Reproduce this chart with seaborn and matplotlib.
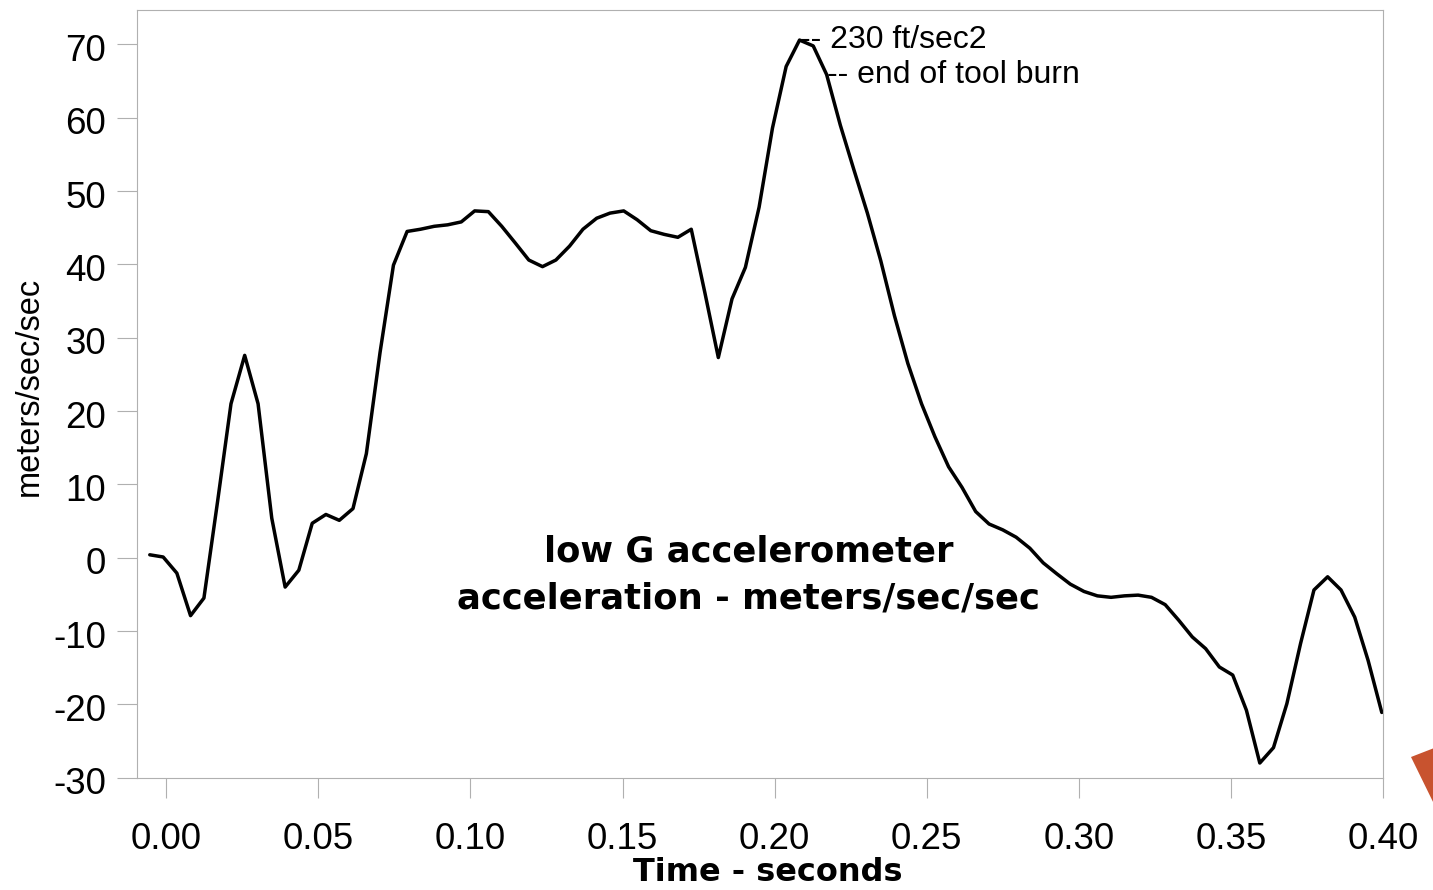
import matplotlib
matplotlib.use("Agg")
import matplotlib.pyplot as plt
import seaborn as sns
from matplotlib.ticker import FormatStrFormatter
from matplotlib.patches import Polygon
from matplotlib.transforms import ScaledTranslation

# --- data ---
time_s = [
    -0.0054, -0.0010, 0.0035, 0.0080, 0.0124, 0.0169, 0.0213, 0.0258, 0.0302, 0.0347,
    0.0391, 0.0436, 0.0480, 0.0525, 0.0569, 0.0614, 0.0658, 0.0703, 0.0747, 0.0792,
    0.0836, 0.0881, 0.0925, 0.0970, 0.1014, 0.1059, 0.1103, 0.1148, 0.1192, 0.1237,
    0.1281, 0.1326, 0.1370, 0.1415, 0.1459, 0.1504, 0.1548, 0.1593, 0.1637, 0.1682,
    0.1726, 0.1771, 0.1815, 0.1860, 0.1904, 0.1949, 0.1993, 0.2038, 0.2082, 0.2127,
    0.2171, 0.2216, 0.2260, 0.2305, 0.2349, 0.2394, 0.2438, 0.2483, 0.2527, 0.2572,
    0.2616, 0.2661, 0.2705, 0.2750, 0.2794, 0.2839, 0.2883, 0.2928, 0.2972, 0.3017,
    0.3061, 0.3106, 0.3150, 0.3195, 0.3239, 0.3284, 0.3328, 0.3373, 0.3417, 0.3462,
    0.3506, 0.3551, 0.3595, 0.3640, 0.3684, 0.3729, 0.3773, 0.3818, 0.3862, 0.3907,
    0.3951, 0.3996,
]
accel = [
    0.4, 0.1, -2.1, -7.9, -5.5, 7.7, 21.0, 27.6, 21.0, 5.4,
    -4.0, -1.7, 4.7, 5.9, 5.1, 6.7, 14.2, 28.0, 39.9, 44.5,
    44.8, 45.2, 45.4, 45.8, 47.3, 47.2, 45.2, 42.9, 40.6, 39.7,
    40.6, 42.5, 44.8, 46.3, 47.0, 47.3, 46.1, 44.6, 44.1, 43.7,
    44.8, 36.1, 27.3, 35.3, 39.6, 47.8, 58.6, 67.0, 70.6, 69.8,
    65.9, 59.0, 53.0, 47.0, 40.5, 33.0, 26.5, 21.0, 16.5, 12.4,
    9.6, 6.3, 4.6, 3.8, 2.8, 1.3, -0.7, -2.2, -3.6, -4.6,
    -5.2, -5.4, -5.2, -5.1, -5.4, -6.4, -8.5, -10.8, -12.4, -14.9,
    -16.0, -20.8, -28.0, -25.9, -19.9, -11.7, -4.4, -2.6, -4.4, -8.1,
    -14.0, -21.1,
]
x_ticks = [0.00, 0.05, 0.10, 0.15, 0.20, 0.25, 0.30, 0.35, 0.40]
y_ticks = [-30, -20, -10, 0, 10, 20, 30, 40, 50, 60, 70]
peak_idx, burn_idx = 48, 50
peak_note = "-- 230 ft/sec2"
burn_note = "-- end of tool burn"
title_lines = ["low G accelerometer", "acceleration - meters/sec/sec"]

sns.set_theme(style="white")
plt.rcParams["font.family"] = ["Liberation Sans", "DejaVu Sans"]
plt.rcParams["axes.unicode_minus"] = False
plt.rcParams["text.color"] = "black"

W, H = 1433, 890
fig = plt.figure(figsize=(W / 100, H / 100), dpi=100)
ax = fig.add_axes([137 / W, 1 - 777.7 / H, (1383 - 137) / W, (777.7 - 10) / H])

sns.lineplot(x=time_s, y=accel, ax=ax, color="black", linewidth=2.5,
             estimator=None, sort=False)

ax.set_xlim(-0.0096, 0.40)
ax.set_ylim(-30, 74.7)
ax.set_xticks(x_ticks)
ax.set_yticks(y_ticks)
ax.xaxis.set_major_formatter(FormatStrFormatter("%.2f"))
ax.tick_params(bottom=True, left=True, direction="out", length=14.4, width=0.8,
               color="#b0b0b0", labelsize=26.5, labelcolor="black")
ax.tick_params(axis="x", pad=17.5)
ax.tick_params(axis="y", pad=8)
# y labels sit a touch below their ticks in the reference
shift = ScaledTranslation(0, -3 / 100, fig.dpi_scale_trans)
for lab in ax.get_yticklabels():
    lab.set_transform(lab.get_transform() + shift)
for sp in ax.spines.values():
    sp.set_visible(True)
    sp.set_color("#b0b0b0")
    sp.set_linewidth(0.8)
ax.set_xlabel("")
ax.set_ylabel("")

# notes at the peak
ax.text(time_s[peak_idx], accel[peak_idx], peak_note, fontsize=23, ha="left", va="center",
        color="black")
ax.text(time_s[burn_idx], accel[burn_idx], burn_note, fontsize=23, ha="left", va="center",
        color="black")

# title inside the plot
ax.text(0.4908, 0.281, title_lines[0], transform=ax.transAxes, ha="center", va="baseline",
        fontsize=25.5, fontweight="bold", family="DejaVu Sans", color="black")
ax.text(0.4908, 0.221, title_lines[1], transform=ax.transAxes, ha="center", va="baseline",
        fontsize=25.5, fontweight="bold", family="DejaVu Sans", color="black")

fig.text(768 / W, 1 - 880.7 / H, "Time - seconds", ha="center", va="baseline",
         fontsize=23, fontweight="bold", family="DejaVu Sans", color="black")
fig.text(29 / W, 1 - 386 / H, "meters/sec/sec", rotation=90, ha="center", va="center",
         fontsize=23.5, color="black")

# stray orange marker at the bottom-right edge
tri = [(1411 / W, 1 - 757 / H), (1460 / W, 1 - 738 / H), (1436 / W, 1 - 808 / H)]
fig.add_artist(Polygon(tri, closed=True, transform=fig.transFigure,
                       facecolor="#c8532f", edgecolor="none"))

fig.savefig("out.png", dpi=100)
